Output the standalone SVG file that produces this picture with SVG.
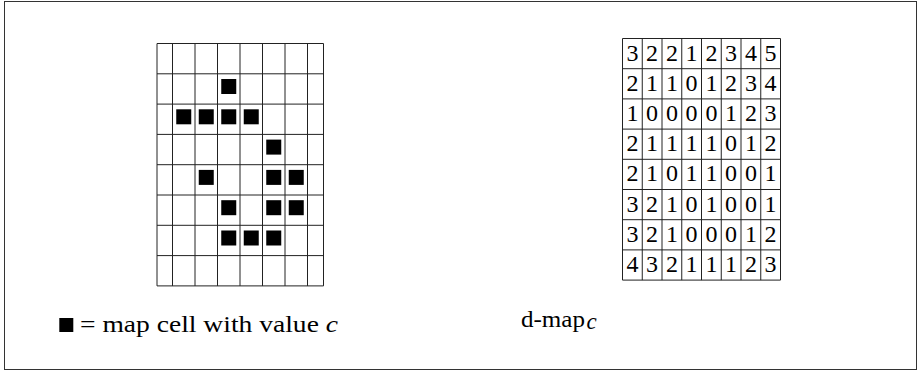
<svg xmlns="http://www.w3.org/2000/svg" width="918" height="371" viewBox="0 0 918 371">
<style>
.frame{fill:#fff;stroke:#333;stroke-width:1}
.grid line{stroke:#222;stroke-width:1}
.cell{fill:#000}
.num{font-family:"Liberation Serif","DejaVu Serif",serif;font-size:24px;fill:#000;text-anchor:middle}
.lbl{font-family:"Liberation Serif","DejaVu Serif",serif;font-size:23px;fill:#000}
</style>
<rect class="frame" x="4.5" y="1.5" width="912" height="368"/>
<g id="map-grid" class="grid">
<line x1="157" y1="43.5" x2="157" y2="285.9"/>
<line x1="172.5" y1="43.5" x2="172.5" y2="285.9"/>
<line x1="195" y1="43.5" x2="195" y2="285.9"/>
<line x1="217.5" y1="43.5" x2="217.5" y2="285.9"/>
<line x1="240" y1="43.5" x2="240" y2="285.9"/>
<line x1="262.5" y1="43.5" x2="262.5" y2="285.9"/>
<line x1="285" y1="43.5" x2="285" y2="285.9"/>
<line x1="307.5" y1="43.5" x2="307.5" y2="285.9"/>
<line x1="323.5" y1="43.5" x2="323.5" y2="285.9"/>
<line x1="157" y1="43.5" x2="323.5" y2="43.5"/>
<line x1="157" y1="73.8" x2="323.5" y2="73.8"/>
<line x1="157" y1="104.1" x2="323.5" y2="104.1"/>
<line x1="157" y1="134.4" x2="323.5" y2="134.4"/>
<line x1="157" y1="164.7" x2="323.5" y2="164.7"/>
<line x1="157" y1="195" x2="323.5" y2="195"/>
<line x1="157" y1="225.3" x2="323.5" y2="225.3"/>
<line x1="157" y1="255.6" x2="323.5" y2="255.6"/>
<line x1="157" y1="285.9" x2="323.5" y2="285.9"/>
<rect class="cell" x="221.25" y="79" width="15" height="15"/>
<rect class="cell" x="176.25" y="109.3" width="15" height="15"/>
<rect class="cell" x="198.75" y="109.3" width="15" height="15"/>
<rect class="cell" x="221.25" y="109.3" width="15" height="15"/>
<rect class="cell" x="243.75" y="109.3" width="15" height="15"/>
<rect class="cell" x="266.25" y="139.6" width="15" height="15"/>
<rect class="cell" x="198.75" y="169.9" width="15" height="15"/>
<rect class="cell" x="266.25" y="169.9" width="15" height="15"/>
<rect class="cell" x="288.75" y="169.9" width="15" height="15"/>
<rect class="cell" x="221.25" y="200.2" width="15" height="15"/>
<rect class="cell" x="266.25" y="200.2" width="15" height="15"/>
<rect class="cell" x="288.75" y="200.2" width="15" height="15"/>
<rect class="cell" x="221.25" y="230.5" width="15" height="15"/>
<rect class="cell" x="243.75" y="230.5" width="15" height="15"/>
<rect class="cell" x="266.25" y="230.5" width="15" height="15"/>
</g>
<g id="dmap-grid" class="grid">
<line x1="622.5" y1="38.5" x2="622.5" y2="280.1"/>
<line x1="642.25" y1="38.5" x2="642.25" y2="280.1"/>
<line x1="662" y1="38.5" x2="662" y2="280.1"/>
<line x1="681.75" y1="38.5" x2="681.75" y2="280.1"/>
<line x1="701.5" y1="38.5" x2="701.5" y2="280.1"/>
<line x1="721.25" y1="38.5" x2="721.25" y2="280.1"/>
<line x1="741" y1="38.5" x2="741" y2="280.1"/>
<line x1="760.75" y1="38.5" x2="760.75" y2="280.1"/>
<line x1="780.5" y1="38.5" x2="780.5" y2="280.1"/>
<line x1="622.5" y1="38.5" x2="780.5" y2="38.5"/>
<line x1="622.5" y1="68.7" x2="780.5" y2="68.7"/>
<line x1="622.5" y1="98.9" x2="780.5" y2="98.9"/>
<line x1="622.5" y1="129.1" x2="780.5" y2="129.1"/>
<line x1="622.5" y1="159.3" x2="780.5" y2="159.3"/>
<line x1="622.5" y1="189.5" x2="780.5" y2="189.5"/>
<line x1="622.5" y1="219.7" x2="780.5" y2="219.7"/>
<line x1="622.5" y1="249.9" x2="780.5" y2="249.9"/>
<line x1="622.5" y1="280.1" x2="780.5" y2="280.1"/>
<g class="num">
<text y="60.5"><tspan x="632.4">3</tspan><tspan x="652.1">2</tspan><tspan x="671.9">2</tspan><tspan x="691.6">1</tspan><tspan x="711.4">2</tspan><tspan x="731.1">3</tspan><tspan x="750.9">4</tspan><tspan x="770.6">5</tspan></text>
<text y="90.7"><tspan x="632.4">2</tspan><tspan x="652.1">1</tspan><tspan x="671.9">1</tspan><tspan x="691.6">0</tspan><tspan x="711.4">1</tspan><tspan x="731.1">2</tspan><tspan x="750.9">3</tspan><tspan x="770.6">4</tspan></text>
<text y="120.9"><tspan x="632.4">1</tspan><tspan x="652.1">0</tspan><tspan x="671.9">0</tspan><tspan x="691.6">0</tspan><tspan x="711.4">0</tspan><tspan x="731.1">1</tspan><tspan x="750.9">2</tspan><tspan x="770.6">3</tspan></text>
<text y="151.1"><tspan x="632.4">2</tspan><tspan x="652.1">1</tspan><tspan x="671.9">1</tspan><tspan x="691.6">1</tspan><tspan x="711.4">1</tspan><tspan x="731.1">0</tspan><tspan x="750.9">1</tspan><tspan x="770.6">2</tspan></text>
<text y="181.3"><tspan x="632.4">2</tspan><tspan x="652.1">1</tspan><tspan x="671.9">0</tspan><tspan x="691.6">1</tspan><tspan x="711.4">1</tspan><tspan x="731.1">0</tspan><tspan x="750.9">0</tspan><tspan x="770.6">1</tspan></text>
<text y="211.5"><tspan x="632.4">3</tspan><tspan x="652.1">2</tspan><tspan x="671.9">1</tspan><tspan x="691.6">0</tspan><tspan x="711.4">1</tspan><tspan x="731.1">0</tspan><tspan x="750.9">0</tspan><tspan x="770.6">1</tspan></text>
<text y="241.7"><tspan x="632.4">3</tspan><tspan x="652.1">2</tspan><tspan x="671.9">1</tspan><tspan x="691.6">0</tspan><tspan x="711.4">0</tspan><tspan x="731.1">0</tspan><tspan x="750.9">1</tspan><tspan x="770.6">2</tspan></text>
<text y="271.9"><tspan x="632.4">4</tspan><tspan x="652.1">3</tspan><tspan x="671.9">2</tspan><tspan x="691.6">1</tspan><tspan x="711.4">1</tspan><tspan x="731.1">1</tspan><tspan x="750.9">2</tspan><tspan x="770.6">3</tspan></text>
</g>
</g>
<g id="legend">
<rect class="cell" x="59.3" y="318" width="14" height="14"/>
<text class="lbl" x="80" y="332" textLength="258" lengthAdjust="spacingAndGlyphs">= map cell with value <tspan font-style="italic">c</tspan></text>
</g>
<g id="dmap-label">
<text class="lbl" x="521" y="327" textLength="64" lengthAdjust="spacingAndGlyphs">d-map</text>
<text class="lbl" x="586.5" y="329" font-size="15" font-style="italic">c</text>
</g>
<g id="connectors"/>
</svg>
